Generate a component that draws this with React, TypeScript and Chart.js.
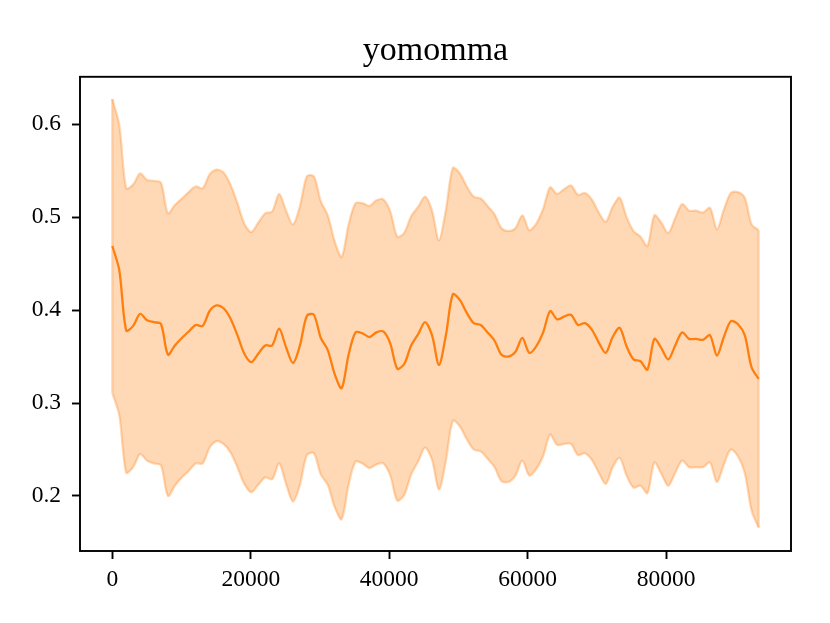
import React, { useEffect, useRef } from 'react';
import { Chart, registerables } from 'chart.js';

Chart.register(...registerables);

// mean of the runs
const meanReturn = [
  0.469, 0.443, 0.378, 0.383, 0.396, 0.389, 0.387, 0.385, 0.352, 0.362,
  0.370, 0.377, 0.384, 0.383, 0.399, 0.405, 0.402, 0.391, 0.373, 0.353,
  0.344, 0.353, 0.362, 0.362, 0.380, 0.360, 0.343, 0.362, 0.394, 0.395,
  0.370, 0.357, 0.331, 0.316, 0.352, 0.376, 0.375, 0.371, 0.376, 0.377,
  0.364, 0.337, 0.342, 0.362, 0.374, 0.387, 0.373, 0.341, 0.373, 0.417,
  0.411, 0.397, 0.386, 0.384, 0.376, 0.367, 0.352, 0.350, 0.355, 0.370,
  0.354, 0.361, 0.376, 0.399, 0.390, 0.393, 0.395, 0.384, 0.386, 0.379,
  0.365, 0.354, 0.371, 0.381, 0.361, 0.347, 0.345, 0.336, 0.369, 0.359,
  0.347, 0.362, 0.376, 0.369, 0.369, 0.368, 0.373, 0.351, 0.371, 0.388,
  0.385, 0.373, 0.338, 0.326,
];

// std band half-width
const stdReturn = [
  0.158, 0.156, 0.153, 0.152, 0.151, 0.151, 0.152, 0.152, 0.152, 0.151,
  0.150, 0.150, 0.149, 0.148, 0.147, 0.146, 0.146, 0.144, 0.142, 0.140,
  0.140, 0.141, 0.142, 0.144, 0.145, 0.147, 0.149, 0.150, 0.150, 0.149,
  0.147, 0.145, 0.143, 0.141, 0.140, 0.139, 0.140, 0.141, 0.142, 0.142,
  0.142, 0.142, 0.141, 0.139, 0.137, 0.135, 0.134, 0.134, 0.135, 0.136,
  0.136, 0.136, 0.136, 0.136, 0.136, 0.136, 0.136, 0.135, 0.133, 0.132,
  0.132, 0.132, 0.133, 0.133, 0.135, 0.137, 0.139, 0.140, 0.140, 0.140,
  0.140, 0.141, 0.140, 0.140, 0.139, 0.138, 0.134, 0.133, 0.133, 0.135,
  0.136, 0.137, 0.138, 0.138, 0.138, 0.137, 0.137, 0.136, 0.137, 0.138,
  0.142, 0.148, 0.154, 0.160,
];

const steps = meanReturn.map((_, i) => i * 1004);
const xTicks = [0, 20000, 40000, 60000, 80000];
const yTicks = [0.2, 0.3, 0.4, 0.5, 0.6];

const ORANGE = '#ff7f0e';
const BAND = 'rgba(255, 127, 14, 0.3)';
const FONT = "'Liberation Serif', 'Times New Roman', serif";

const App = () => {
  const canvasRef = useRef<HTMLCanvasElement>(null);

  useEffect(() => {
    document.body.style.margin = '0';
    const ctx = canvasRef.current?.getContext('2d');
    if (!ctx) return;

    const upper = steps.map((x, i) => ({ x, y: meanReturn[i] + stdReturn[i] }));
    const lower = steps.map((x, i) => ({ x, y: meanReturn[i] - stdReturn[i] }));

    const axisCommon = {
      type: 'linear' as const,
      border: { display: false },
      grid: {
        drawOnChartArea: false,
        drawTicks: true,
        tickLength: 8,
        tickWidth: 1.9,
        tickColor: '#000',
      },
    };

    const chart = new Chart(ctx, {
      type: 'line',
      data: {
        datasets: [
          {
            data: steps.map((x, i) => ({ x, y: meanReturn[i] })),
            borderColor: ORANGE,
            borderWidth: 2.3,
            pointRadius: 0,
            tension: 0.3,
            fill: false,
          },
          {
            data: upper,
            borderColor: BAND,
            backgroundColor: BAND,
            borderWidth: 2.3,
            pointRadius: 0,
            tension: 0.3,
            fill: '+1',
          },
          {
            data: lower,
            borderColor: BAND,
            borderWidth: 2.3,
            pointRadius: 0,
            tension: 0.3,
            fill: false,
          },
        ],
      },
      options: {
        animation: false,
        responsive: true,
        maintainAspectRatio: false,
        layout: { padding: { top: 0, right: 39, bottom: 0, left: 0 } },
        scales: {
          x: {
            ...axisCommon,
            min: -4670,
            max: 98050,
            afterBuildTicks: (s: any) => {
              s.ticks = xTicks.map((value) => ({ value }));
            },
            afterFit: (s: any) => {
              s.height = 72;
            },
            ticks: {
              color: '#000',
              font: { family: FONT, size: 23.5 },
              padding: 7,
              maxRotation: 0,
              autoSkip: false,
              callback: (v: any) => String(v),
            },
          },
          y: {
            ...axisCommon,
            min: 0.1408,
            max: 0.651,
            afterBuildTicks: (s: any) => {
              s.ticks = yTicks.map((value) => ({ value }));
            },
            afterFit: (s: any) => {
              s.width = 80;
            },
            ticks: {
              color: '#000',
              font: { family: FONT, size: 23.5 },
              padding: 11,
              callback: (v: any) => Number(v).toFixed(1),
            },
          },
        },
        plugins: {
          legend: { display: false },
          tooltip: { enabled: false },
          title: {
            display: true,
            text: 'yomomma',
            color: '#000',
            fullSize: false,
            font: { family: FONT, size: 34, weight: 'normal' },
            padding: { top: 31, bottom: 5 },
          },
        },
      },
      plugins: [
        {
          id: 'frame',
          afterDatasetsDraw: (c: any) => {
            // closing edges of the band, like fill_between's polygon
            const { ctx: g, scales } = c;
            g.save();
            g.strokeStyle = BAND;
            g.lineWidth = 2.3;
            [0, steps.length - 1].forEach((i) => {
              const px = scales.x.getPixelForValue(steps[i]);
              g.beginPath();
              g.moveTo(px, scales.y.getPixelForValue(upper[i].y));
              g.lineTo(px, scales.y.getPixelForValue(lower[i].y));
              g.stroke();
            });
            g.restore();
          },
          afterDraw: (c: any) => {
            const { ctx: g, chartArea: a } = c;
            g.save();
            g.strokeStyle = '#000';
            g.lineWidth = 1.9;
            g.strokeRect(a.left, a.top, a.right - a.left, a.bottom - a.top);
            g.restore();
          },
        },
      ],
    });

    return () => {
      chart.destroy();
    };
  }, []);

  return (
    <div style={{ width: 830, height: 623, background: '#fff' }}>
      <canvas ref={canvasRef} />
    </div>
  );
};

export default App;
